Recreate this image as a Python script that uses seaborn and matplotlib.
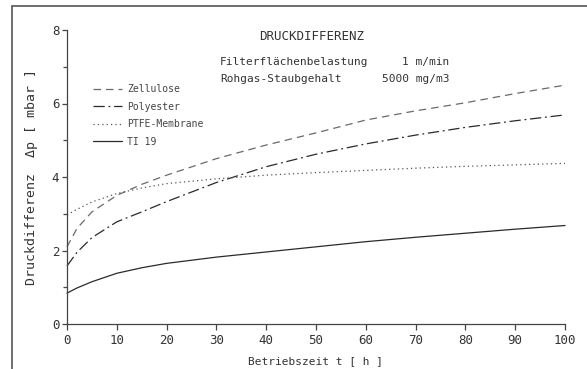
import matplotlib
matplotlib.use('Agg')
import matplotlib.pyplot as plt
import seaborn as sns
import pandas as pd
from matplotlib.patches import Rectangle

# Betriebszeit [h]
t = [0, 2, 5, 10, 15, 20, 30, 40, 50, 60, 70, 80, 90, 100]

# Druckdifferenz [mbar]
zellulose = [2.1, 2.6, 3.05, 3.5, 3.8, 4.05, 4.5, 4.87, 5.2, 5.55, 5.8, 6.02, 6.27, 6.5]
polyester = [1.58, 1.95, 2.35, 2.78, 3.05, 3.33, 3.85, 4.28, 4.62, 4.9, 5.14, 5.35, 5.53, 5.69]
ptfe = [2.97, 3.12, 3.32, 3.55, 3.7, 3.82, 3.95, 4.05, 4.12, 4.18, 4.24, 4.29, 4.33, 4.37]
ti19 = [0.84, 0.98, 1.15, 1.38, 1.53, 1.65, 1.82, 1.96, 2.1, 2.24, 2.36, 2.47, 2.58, 2.68]

labels = ['Zellulose', 'Polyester', 'PTFE-Membrane', 'TI 19']
series = [zellulose, polyester, ptfe, ti19]

df = pd.DataFrame({
    't': t * 4,
    'dp': sum(series, []),
    'Material': [lab for lab in labels for _ in t],
})

sns.set_style('ticks')
plt.rcParams['font.family'] = ['DejaVu Sans Mono', 'DejaVu Sans']

fig = plt.figure(figsize=(5.87, 3.69), dpi=100)
ax = fig.add_axes([67 / 587, 1 - 324 / 369, (565 - 67) / 587, (324 - 30) / 369])

styles = {
    'Zellulose': dict(color='#6a6a6a', linestyle=(0, (6, 4))),
    'Polyester': dict(color='#2a2a2a', linestyle=(0, (9, 3, 1.5, 3))),
    'PTFE-Membrane': dict(color='#555555', linestyle=(0, (1, 2.5))),
    'TI 19': dict(color='#2a2a2a', linestyle='-'),
}

for lab in labels:
    sub = df[df['Material'] == lab]
    sns.lineplot(data=sub, x='t', y='dp', ax=ax, label=lab, linewidth=0.9,
                 clip_on=False, **styles[lab])

ax.set_xlim(0, 100)
ax.set_ylim(0, 8)
ax.set_xticks(range(0, 101, 10))
ax.set_yticks([0, 2, 4, 6, 8])
ax.set_yticks([1, 3, 5, 7], minor=True)
sns.despine(ax=ax)
for s in ['left', 'bottom']:
    ax.spines[s].set_color('#444444')
    ax.spines[s].set_linewidth(0.9)
ax.tick_params(axis='both', which='both', direction='out', color='#444444',
               width=0.9, labelcolor='#333333')
ax.tick_params(axis='x', length=4, pad=3, labelsize=9)
ax.tick_params(axis='y', length=3.5, pad=2, labelsize=9)
ax.tick_params(axis='y', which='minor', length=3)

ax.set_xlabel('Betriebszeit t [ h ]', fontsize=8, color='#333333', labelpad=7)
ax.set_ylabel('Druckdifferenz  Δp [ mbar ]', fontsize=9.5, color='#333333', labelpad=10)

leg = ax.legend(loc='upper left', bbox_to_anchor=(93 / 587, 1 - 84 / 369),
                bbox_transform=fig.transFigure, frameon=False, fontsize=7,
                handlelength=3.0, handletextpad=0.5, labelspacing=0.78,
                borderpad=0, borderaxespad=0)
for txt in leg.get_texts():
    txt.set_color('#444444')

fig.text(312 / 587, 1 - 36 / 369, 'DRUCKDIFFERENZ', ha='center', va='center',
         fontsize=9, color='#333333')
fig.text(220 / 587, 1 - 62 / 369, 'Filterflächenbelastung', ha='left', va='center',
         fontsize=8, color='#333333')
fig.text(449 / 587, 1 - 62 / 369, '1 m/min', ha='right', va='center',
         fontsize=8, color='#333333')
fig.text(220 / 587, 1 - 79 / 369, 'Rohgas-Staubgehalt', ha='left', va='center',
         fontsize=8, color='#333333')
fig.text(449 / 587, 1 - 79 / 369, '5000 mg/m3', ha='right', va='center',
         fontsize=8, color='#333333')

# outer frame of the scanned figure
fig.patches.append(Rectangle((12 / 587, -0.1), 1.2, 1.1 - 6 / 369,
                             transform=fig.transFigure, fill=False,
                             edgecolor='#555555', linewidth=1.2))

fig.savefig('out.png', dpi=100)
